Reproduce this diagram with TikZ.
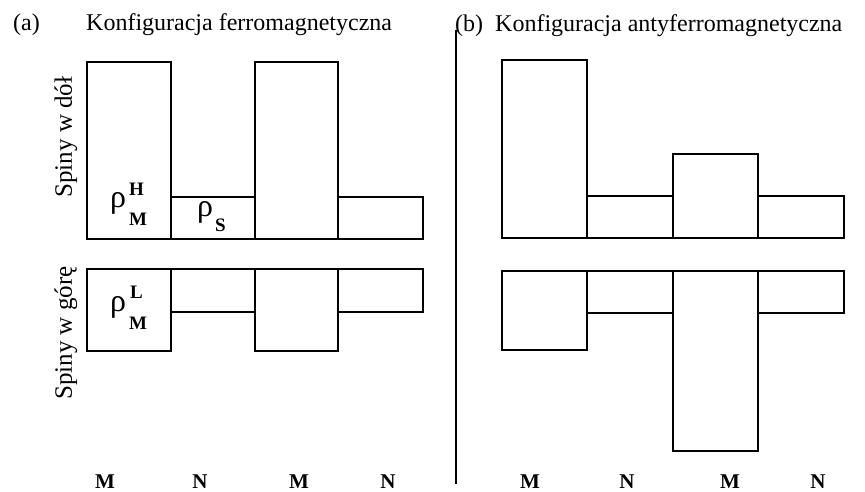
\documentclass[tikz,border=0pt]{standalone}
\usepackage{fontspec}
\setmainfont{Liberation Serif}
\begin{document}
\begin{tikzpicture}[x=1pt,y=-1pt,
  bar/.style={draw=black, line width=1.5pt, line join=miter},
  title/.style={font=\fontsize{24}{26}\selectfont, inner sep=0pt, anchor=base west},
  sidelabel/.style={font=\fontsize{25}{27}\selectfont, rotate=90, inner sep=0pt},
  site/.style={font=\fontsize{21}{22}\selectfont\bfseries, inner sep=0pt, anchor=base},
  dens/.style={font=\fontsize{32}{32}\selectfont, inner sep=0pt, anchor=base},
  idx/.style={font=\fontsize{19}{19}\selectfont\bfseries, inner sep=0pt, anchor=base west}]
\useasboundingbox (0,0) rectangle (865,491);

% panel (a): ferromagnetic, spin down
\draw[bar] (87,62) rectangle (171,239);
\draw[bar] (171,197) rectangle (255,239);
\draw[bar] (255,62) rectangle (338,239);
\draw[bar] (338,197) rectangle (423,239);
% panel (a): spin up
\draw[bar] (87,269) rectangle (171,351);
\draw[bar] (171,269) rectangle (255,312);
\draw[bar] (255,269) rectangle (338,351);
\draw[bar] (338,269) rectangle (423,312);

% panel (b): antiferromagnetic, spin down
\draw[bar] (502,60) rectangle (587,238);
\draw[bar] (587,196) rectangle (673,238);
\draw[bar] (673,154) rectangle (758,238);
\draw[bar] (758,196) rectangle (844,238);
% panel (b): spin up
\draw[bar] (502,271) rectangle (587,350);
\draw[bar] (587,271) rectangle (673,313);
\draw[bar] (673,271) rectangle (758,451);
\draw[bar] (758,271) rectangle (844,313);

% separator between the two panels
\draw[line width=1.2pt] (456,30) -- (456,484);

% titles
\node[title] (ta) at (13,30) {(a)};
\node[title] (tfm) at (86,30) {Konfiguracja ferromagnetyczna};
\node[title] (tafm) at (455,31) {(b)\ \ Konfiguracja antyferromagnetyczna};

% side labels
\node[sidelabel] (down) at (66,137) {Spiny w dół};
\node[sidelabel] (up) at (66,333) {Spiny w górę};

% densities with their indices
\node[dens] (rhoH) at (118,207) {ρ};
\node[idx] (rhoHsup) at (129,195) {H};
\node[idx] (rhoHsub) at (129,225) {M};
\node[dens] (rhoS) at (205,216) {ρ};
\node[idx] (rhoSsub) at (215,231) {S};
\node[dens] (rhoL) at (118,311) {ρ};
\node[idx] (rhoLsup) at (130,298) {L};
\node[idx] (rhoLsub) at (129,329) {M};

% site labels
\node[site] (a1) at (105,488) {M};
\node[site] (a2) at (200,488) {N};
\node[site] (a3) at (299,488) {M};
\node[site] (a4) at (388,488) {N};
\node[site] (b1) at (530,488) {M};
\node[site] (b2) at (627,488) {N};
\node[site] (b3) at (730,488) {M};
\node[site] (b4) at (818,488) {N};
\end{tikzpicture}
\end{document}
